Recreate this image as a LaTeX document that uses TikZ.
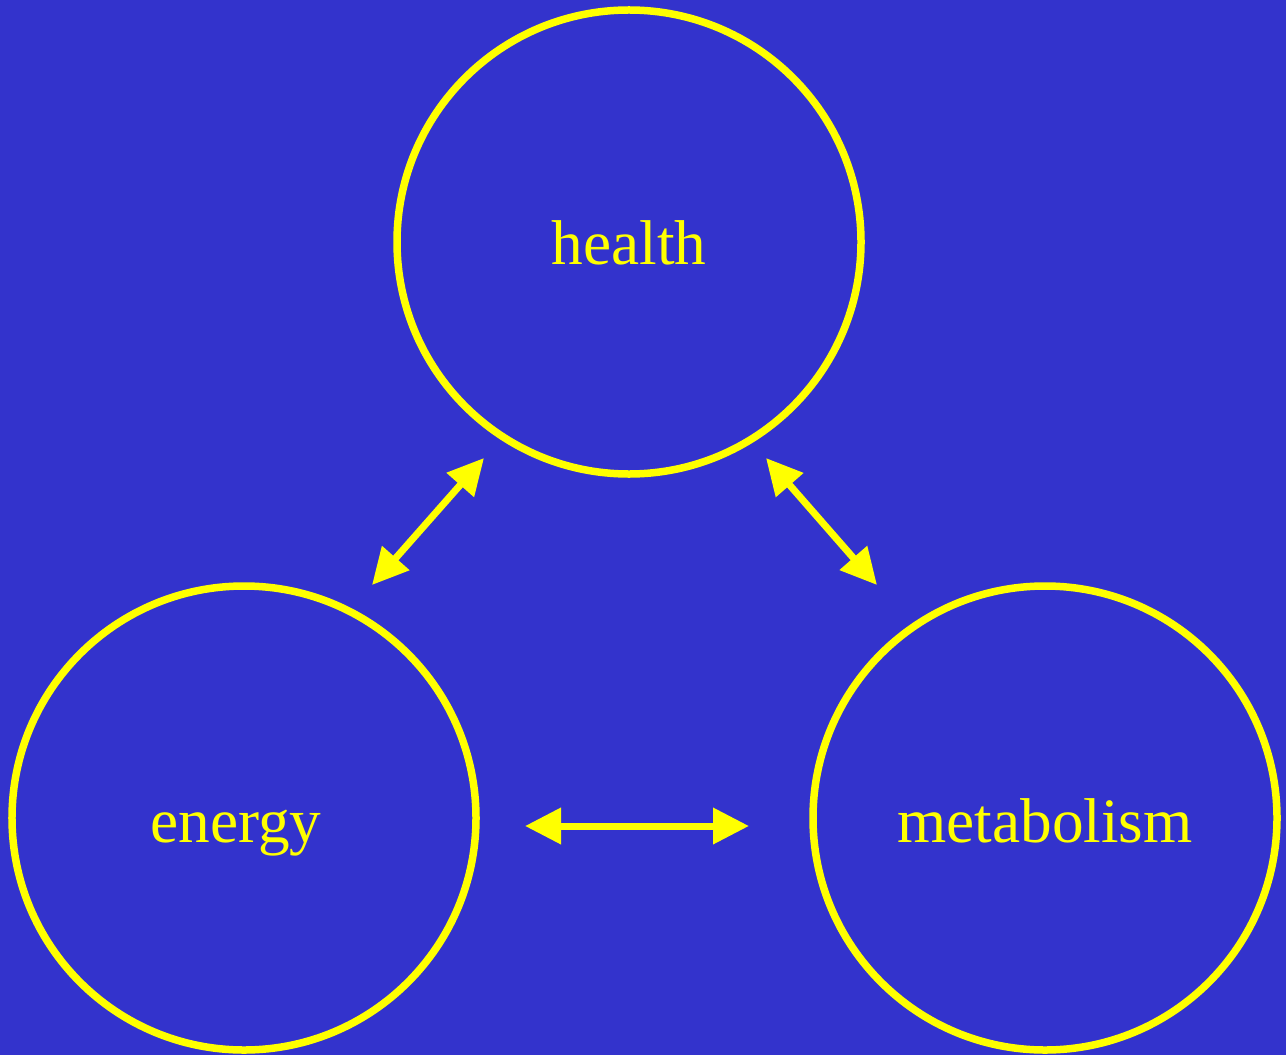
\documentclass[tikz,border=0pt]{standalone}
\usepackage{fontspec}
\setmainfont{Liberation Serif}
\usetikzlibrary{arrows.meta}
\definecolor{slide}{HTML}{3333CC}
\definecolor{ink}{HTML}{FFFF00}
\tikzset{
    bubble/.style={
        circle,
        draw=ink,
        line width=1.5mm,
        minimum size=92.8mm,
        inner sep=0mm
    },
    word/.style={
        text=ink,
        anchor=base,
        inner sep=0mm,
        font=\fontsize{36}{43}\selectfont
    },
    link/.style={
        draw=ink,
        line width=1.4mm,
        {Triangle[length=7.2mm,width=7mm]}-{Triangle[length=7.2mm,width=7mm]}
    }
}
\begin{document}
\begin{tikzpicture}[x=0.2mm,y=-0.2mm]
        \fill[slide] (0,0) rectangle (1286,1055);
        \useasboundingbox (0,0) rectangle (1286,1055);
        \node[bubble] (health) at (629,242) {};
        \node[bubble] (energy) at (244,818) {};
        \node[bubble] (metab) at (1045,818) {};
        \node[word] (healthtxt) at (629,264) {health};
        \node[word] (energytxt) at (236,842) {energy};
        \node[word] (metabtxt) at (1045,842) {metabolism};
        \coordinate (eh1) at (372,585);
        \coordinate (eh2) at (484,458);
        \coordinate (hm1) at (766,458);
        \coordinate (hm2) at (877,585);
        \coordinate (em1) at (525,826);
        \coordinate (em2) at (749,826);
        \path[link] (eh1) -- (eh2);
        \path[link] (hm1) -- (hm2);
        \path[link] (em1) -- (em2);
    \end{tikzpicture}
\end{document}
